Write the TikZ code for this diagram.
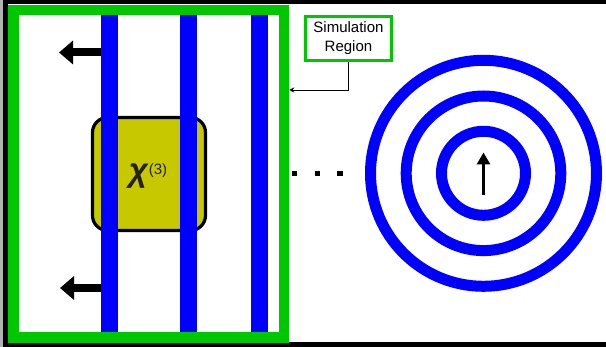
\documentclass[tikz,border=0pt]{standalone}
\usepackage{fontspec}
\setmainfont{Liberation Sans}
\usetikzlibrary{arrows.meta}
\definecolor{regiongreen}{RGB}{0,200,0}
\definecolor{wavblue}{RGB}{0,0,255}
\definecolor{chiyellow}{RGB}{200,200,0}
\definecolor{chiink}{RGB}{34,34,34}
\tikzset{
  frame/.style={draw=black, line width=4.5pt},
  regionbox/.style={draw=regiongreen, line width=10.5pt, minimum width=270.5pt, minimum height=327.5pt, inner sep=0pt},
  chibox/.style={draw=black, fill=chiyellow, line width=3.2pt, rounded corners=15pt, minimum width=113pt, minimum height=113pt, inner sep=0pt},
  wavefront/.style={fill=wavblue},
  ring/.style={draw=wavblue, line width=11pt},
  fatarrow/.style={line width=8pt, -{Triangle[length=14pt,width=23pt]}},
  dipole/.style={line width=3pt, -{Triangle[length=12pt,width=13pt]}},
  labelbox/.style={draw=regiongreen, line width=3.2pt, fill=white, minimum width=86pt, minimum height=44pt, inner sep=0pt, align=center, font=\fontsize{15}{19}\selectfont},
  pointer/.style={line width=0.8pt, -{Stealth[length=5pt,width=5pt]}},
  dot/.style={fill=black, minimum size=5.5pt, inner sep=0pt}
}
\begin{document}
\begin{tikzpicture}[x=1pt, y=-1pt]
  \clip (0,0) rectangle (606,347);
  \useasboundingbox (0,0) rectangle (606,347);
  \fill[white] (0,0) rectangle (606,347);

  % outer frame, open to the right
  \fill[gray!60] (0,0) rectangle (3,347);
  \draw[frame] (5.5,2) rectangle (660,344.5);

  % nonlinear medium
  \node[chibox] (chi) at (149,174) {};
  \node[anchor=base, text=chiink] (chilabel) at (148,182)
    {\fontsize{33}{33}\selectfont\bfseries\itshape χ\hspace{1pt}\raisebox{7pt}{\fontsize{15}{15}\selectfont\mdseries\upshape(3)}};

  % plane wavefronts
  \fill[wavefront] (101,15) rectangle (118,332);
  \fill[wavefront] (180,15) rectangle (197,332);
  \fill[wavefront] (251,15) rectangle (268,332);

  % simulation region
  \node[regionbox] (region) at (148.75,173.75) {};

  % propagation direction
  \coordinate (ta) at (101,52.5);
  \coordinate (tb) at (59,52.5);
  \coordinate (ba) at (101,288);
  \coordinate (bb) at (60,288);
  \draw[fatarrow] (ta) -- (tb);
  \draw[fatarrow] (ba) -- (bb);

  % ellipsis
  \node[dot] (d1) at (294.5,173.5) {};
  \node[dot] (d2) at (317.5,173.5) {};
  \node[dot] (d3) at (340,173.5) {};

  % spherical wavefronts around the source
  \coordinate (src) at (483.5,173.3);
  \draw[ring] (src) circle[radius=113pt];
  \draw[ring] (src) circle[radius=77.3pt];
  \draw[ring] (src) circle[radius=42pt];
  \coordinate (pa) at (483.5,195);
  \coordinate (pb) at (483.5,152.5);
  \draw[dipole] (pa) -- (pb);

  % label
  \node[labelbox] (sim) at (348.5,38.5) {Simulation\\Region};
  \coordinate (elbow) at (sim.south |- 0,90);
  \draw[pointer] (sim.south) -- (elbow) -- (elbow -| region.east);
\end{tikzpicture}
\end{document}
